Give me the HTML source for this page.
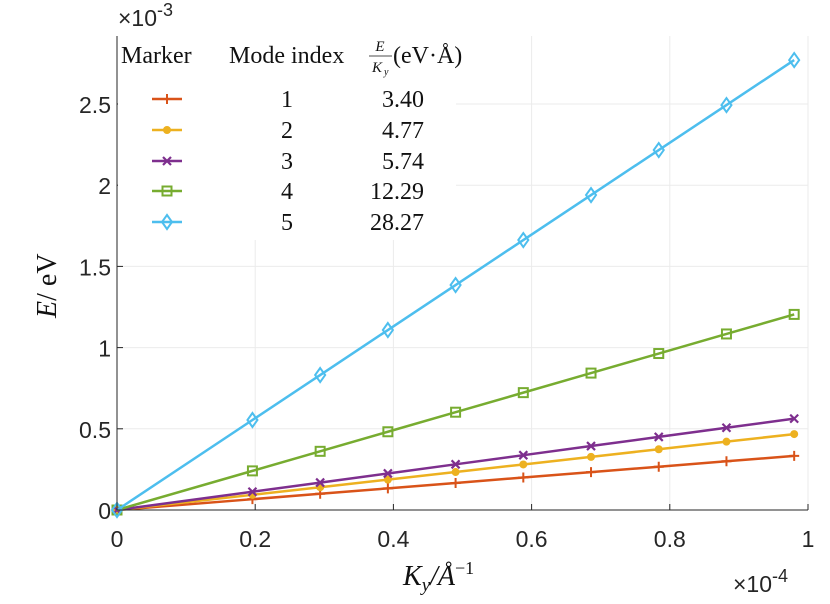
<!DOCTYPE html>
<html><head><meta charset="utf-8"><style>
body{margin:0;background:#fff}
svg{display:block}
.tick{font-family:"Liberation Sans",sans-serif;font-size:23px;fill:#262626}
.ser{font-family:"Liberation Serif",serif;fill:#111}
</style></head><body>
<svg id="chart" width="830" height="604" viewBox="0 0 830 604" xmlns="http://www.w3.org/2000/svg">
<g id="grid"></g>
<g id="series"></g>
<g id="axes"></g>
<g id="legend"></g>
</svg>
<script>
const xVals = [0, 0.196, 0.294, 0.392, 0.49, 0.588, 0.686, 0.784, 0.882, 0.98];
const mode1 = [0, 0.0666, 0.1000, 0.1333, 0.1666, 0.1999, 0.2332, 0.2666, 0.2999, 0.3332];
const mode2 = [0, 0.0935, 0.1402, 0.1870, 0.2337, 0.2805, 0.3272, 0.3740, 0.4207, 0.4675];
const mode3 = [0, 0.1125, 0.1688, 0.2250, 0.2813, 0.3375, 0.3938, 0.4500, 0.5063, 0.5625];
const mode4 = [0, 0.2409, 0.3613, 0.4818, 0.6022, 0.7227, 0.8431, 0.9635, 1.0840, 1.2044];
const mode5 = [0, 0.5541, 0.8311, 1.1082, 1.3852, 1.6623, 1.9393, 2.2164, 2.4934, 2.7705];
const modeIndex = ["1","2","3","4","5"];
const slopeLabels = ["3.40","4.77","5.74","12.29","28.27"];
const xTicks = [0, 0.2, 0.4, 0.6, 0.8, 1];
const xTickLabels = ["0","0.2","0.4","0.6","0.8","1"];
const yTicks = [0, 0.5, 1, 1.5, 2, 2.5];
const yTickLabels = ["0","0.5","1","1.5","2","2.5"];

const NS="http://www.w3.org/2000/svg";
const L=117,R=808,B=510,T=36;
const X=v=>L+v*(R-L);
const Y=v=>B-v*162.4;
function mk(tag,attrs,parent){const e=document.createElementNS(NS,tag);for(const k in attrs)e.setAttribute(k,attrs[k]);parent.appendChild(e);return e;}
const grid=document.getElementById('grid'),axes=document.getElementById('axes'),sg=document.getElementById('series'),lg=document.getElementById('legend');

xTicks.forEach((t,i)=>{
  if(t>0){const g=mk('line',{x1:X(t),x2:X(t),y1:T,y2:B,stroke:'#ebebeb','stroke-width':1},grid);
  
  }
  const tk=mk('line',{x1:X(t),x2:X(t),y1:B,y2:B-6,stroke:'#262626'},axes);
  
  
  const tx=mk('text',{x:X(t),y:B+37,'text-anchor':'middle',class:'tick'},axes);tx.textContent=xTickLabels[i];
  
  
});
yTicks.forEach((t,i)=>{
  if(t>0){const g=mk('line',{x1:L,x2:R,y1:Y(t),y2:Y(t),stroke:'#ebebeb','stroke-width':1},grid);
  
  }
  const tk=mk('line',{x1:L,x2:L+6,y1:Y(t),y2:Y(t),stroke:'#262626'},axes);
  
  
  const tx=mk('text',{x:L-6,y:Y(t)+9,'text-anchor':'end',class:'tick'},axes);tx.textContent=yTickLabels[i];
  
  
});
let a=mk('line',{x1:L,x2:R,y1:B,y2:B,stroke:'#262626'},axes);


a=mk('line',{x1:L,x2:L,y1:T,y2:B,stroke:'#262626'},axes);



const colors=['#d95319','#edb120','#7e2f8e','#77ac30','#4dbeee'];
const markers=['plus','circle','x','square','diamond'];
function marker(type,x,y,c,p){
  let e;
  if(type==='plus'){e=mk('path',{d:`M${x-5} ${y}H${x+5}M${x} ${y-5}V${y+5}`,stroke:c,'stroke-width':2,fill:'none'},p);}
  else if(type==='circle'){e=mk('circle',{cx:x,cy:y,r:4,fill:c},p);}
  else if(type==='x'){e=mk('path',{d:`M${x-4} ${y-4}L${x+4} ${y+4}M${x-4} ${y+4}L${x+4} ${y-4}`,stroke:c,'stroke-width':2.2,fill:'none'},p);}
  else if(type==='square'){e=mk('rect',{x:x-4.5,y:y-4.5,width:9,height:9,stroke:c,'stroke-width':2,fill:'none'},p);}
  else {e=mk('path',{d:`M${x} ${y-7}L${x+5} ${y}L${x} ${y+7}L${x-5} ${y}Z`,stroke:c,'stroke-width':2,fill:'none'},p);}
  
  
}
[mode1,mode2,mode3,mode4,mode5].forEach((s,i)=>{
  const g=mk('g',{},sg);
  
  
  const pl=mk('polyline',{points:s.map((v,j)=>X(xVals[j])+','+Y(v)).join(' '),fill:'none',stroke:colors[i],'stroke-width':2.5},g);
  
  
  s.forEach((v,j)=>marker(markers[i],X(xVals[j]),Y(v),colors[i],g));
});

// legend
let bg=mk('rect',{x:L+1,y:T,width:338,height:204,fill:'#fff'},lg);


function txt(s,x,y,size,anchor,name,p){const t=mk('text',{x:x,y:y,'font-size':size,'text-anchor':anchor||'start',class:'ser'},p||lg);t.textContent=s;

return t;}
txt('Marker',121,63,24,'start','legend-header-marker');
txt('Mode index',229,63,24,'start','legend-header-mode');
txt('E',380,51,15,'middle','legend-header-e').setAttribute('font-style','italic');
mk('line',{x1:369,x2:392,y1:56,y2:56,stroke:'#111','stroke-width':0.8},lg);
txt('K',377,72,15,'middle','legend-header-ky').setAttribute('font-style','italic');
txt('y',384,75,10,'start','legend-header-y').setAttribute('font-style','italic');
txt('(eV·Å)',393,63,24,'start','legend-header-unit');
const rowY=[99,130,161,191,222];
modeIndex.forEach((m,i)=>{
  const g=mk('g',{},lg);
  
  
  const ln=mk('line',{x1:152,x2:182,y1:rowY[i],y2:rowY[i],stroke:colors[i],'stroke-width':2.5},g);
  
  
  marker(markers[i],167,rowY[i],colors[i],g);
  txt(m,287,rowY[i]+8,24,'middle','legend-mode-index',g);
  txt(slopeLabels[i],424,rowY[i]+8,24,'end','legend-slope',g);
});

// labels
let e=mk('text',{x:118,y:26,class:'tick','font-size':25},axes);e.innerHTML='×10<tspan dy="-10" font-size="18">-3</tspan>';


e=mk('text',{x:733,y:592,class:'tick','font-size':25},axes);e.innerHTML='×10<tspan dy="-10" font-size="18">-4</tspan>';


e=mk('text',{x:403,y:585,'font-size':28,class:'ser'},axes);e.innerHTML='<tspan font-style="italic">K</tspan><tspan font-style="italic" font-size="19" dy="6">y</tspan><tspan dy="-6" font-style="italic">/Å</tspan><tspan font-size="18" dy="-11">−1</tspan>';


e=mk('text',{x:0,y:0,'font-size':28,class:'ser',transform:'translate(56,318) rotate(-90)'},axes);e.innerHTML='<tspan font-style="italic">E</tspan>/ eV';


</script>
</body></html>
